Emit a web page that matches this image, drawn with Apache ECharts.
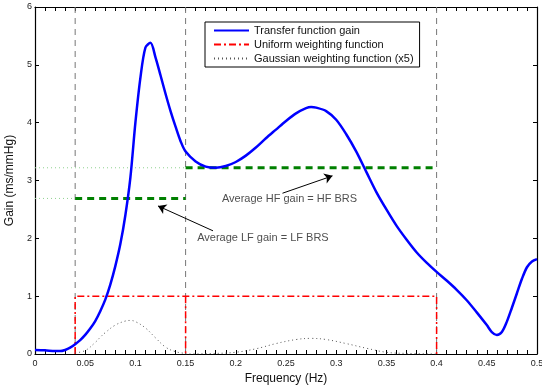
<!DOCTYPE html>
<html>
<head>
<meta charset="utf-8">
<script src="https://cdn.jsdelivr.net/npm/echarts@6/dist/echarts.min.js"></script>
<style>
  html, body { margin: 0; padding: 0; background: #fff; }
  #chart { width: 542px; height: 390px; }
</style>
</head>
<body>
<div id="chart"></div>
<script>
// transfer function gain
const freq = [0, 0.01, 0.02, 0.025, 0.03, 0.035, 0.04, 0.045, 0.05, 0.055, 0.06, 0.065, 0.07, 0.075,
  0.08, 0.085, 0.09, 0.095, 0.1, 0.105, 0.11, 0.115, 0.12, 0.125, 0.13, 0.135, 0.14, 0.145, 0.15,
  0.16, 0.17, 0.18, 0.19, 0.2, 0.21, 0.22, 0.23, 0.24, 0.25, 0.26, 0.27, 0.275, 0.28, 0.29, 0.3,
  0.31, 0.32, 0.33, 0.34, 0.35, 0.36, 0.37, 0.38, 0.39, 0.4, 0.41, 0.42, 0.43, 0.44, 0.45, 0.455,
  0.46, 0.465, 0.47, 0.475, 0.48, 0.485, 0.49, 0.495, 0.5];
const gain = [0.07, 0.065, 0.05, 0.05, 0.07, 0.11, 0.17, 0.24, 0.33, 0.44, 0.57, 0.74, 0.94, 1.2,
  1.52, 1.9, 2.4, 3.05, 4.0, 4.78, 5.3, 5.38, 5.13, 4.82, 4.5, 4.2, 3.93, 3.68, 3.5,
  3.33, 3.24, 3.22, 3.25, 3.32, 3.43, 3.57, 3.73, 3.88, 4.03, 4.16, 4.25, 4.27, 4.26, 4.2, 4.05,
  3.8, 3.5, 3.15, 2.8, 2.5, 2.22, 1.98, 1.76, 1.58, 1.42, 1.27, 1.11, 0.93, 0.72, 0.5, 0.38,
  0.33, 0.38, 0.56, 0.8, 1.05, 1.3, 1.5, 1.6, 1.64];

// gaussian weighting (x5), LF and HF windows
const lfGaussFreq = [0.04, 0.05, 0.06, 0.065, 0.07, 0.08, 0.09, 0.095, 0.1, 0.11, 0.12, 0.13, 0.14, 0.15];
const lfGaussVal = [0.02, 0.06, 0.2, 0.29, 0.37, 0.5, 0.57, 0.58, 0.56, 0.45, 0.28, 0.12, 0.04, 0.01];
const hfGaussFreq = [0.15, 0.18, 0.2, 0.22, 0.24, 0.26, 0.275, 0.29, 0.31, 0.33, 0.35, 0.37, 0.4];
const hfGaussVal = [0.0, 0.01, 0.03, 0.09, 0.18, 0.25, 0.27, 0.25, 0.18, 0.1, 0.03, 0.01, 0.0];

const bandEdges = [0.04, 0.15, 0.4];
const uniformLevel = 1;
const lfAvgGain = 2.69;
const hfAvgGain = 3.22;

const noteText = ['Average HF gain = HF BRS', 'Average LF gain = LF BRS'];
const notePos = [[0.2535, 2.68], [0.227, 2.0]];
const arrowFrom = [[0.2465, 2.78], [0.1773, 2.13]];
const arrowTo = [[0.2963, 3.08], [0.1225, 2.56]];

const names = ['Transfer function gain', 'Uniform weighting function', 'Gaussian weighting function (x5)'];

const zip = (xs, ys) => xs.map((x, i) => [x, ys[i]]);
const font = '"Liberation Sans", Arial, sans-serif';

const seg = (data, color, width, type, name) => ({
  name: name || '',
  type: 'line',
  data,
  symbol: 'none',
  silent: true,
  lineStyle: { color, width, type }
});

const series = [];

// band edges
bandEdges.forEach((e) => {
  series.push(seg([[e, 0], [e, 6]], '#777', 1, [6, 5]));
});

// guides and averages
series.push(seg([[0, lfAvgGain], [bandEdges[0], lfAvgGain]], '#8fd18f', 1, [1, 3]));
series.push(seg([[0, hfAvgGain], [bandEdges[1], hfAvgGain]], '#8fd18f', 1, [1, 3]));
series.push(seg([[bandEdges[0], lfAvgGain], [bandEdges[1], lfAvgGain]], '#008000', 3, [7, 5]));
series.push(seg([[bandEdges[1], hfAvgGain], [bandEdges[2], hfAvgGain]], '#008000', 3, [7, 5]));

series.push({
  name: names[0],
  type: 'line',
  data: zip(freq, gain),
  symbol: 'none',
  smooth: 0.3,
  lineStyle: { color: '#0000ff', width: 2.5 },
  itemStyle: { color: '#0000ff' },
  z: 5
});

series.push(Object.assign(seg([[bandEdges[0], 0], [bandEdges[0], uniformLevel], [bandEdges[2], uniformLevel], [bandEdges[2], 0]],
  '#ff0000', 1.5, [7, 3, 2, 3], names[1]), { itemStyle: { color: '#ff0000' } }));
series.push(seg([[bandEdges[1], uniformLevel], [bandEdges[1], 0]], '#ff0000', 1.5, [7, 3, 2, 3], names[1]));

series.push(Object.assign(seg(zip(lfGaussFreq, lfGaussVal), '#555', 1, [1, 3], names[2]), { smooth: 0.4, itemStyle: { color: '#555' } }));
series.push(Object.assign(seg(zip(hfGaussFreq, hfGaussVal), '#555', 1, [1, 3], names[2]), { smooth: 0.4 }));

// annotations
series.push({
  type: 'scatter',
  silent: true,
  symbolSize: 0,
  data: notePos.map((p, i) => [p[0], p[1], noteText[i]]),
  label: {
    show: true,
    position: 'inside',
    formatter: (p) => p.value[2],
    fontFamily: font,
    fontSize: 11,
    color: '#222'
  },
  markLine: {
    silent: true,
    animation: false,
    symbol: ['none', 'arrow'],
    symbolSize: 8,
    label: { show: false },
    lineStyle: { color: '#000', width: 1, type: 'solid' },
    data: arrowFrom.map((a, i) => [{ coord: a }, { coord: arrowTo[i] }])
  }
});

const boxAxis = (pos) => ({
  type: 'value',
  min: 0,
  max: pos === 'top' || pos === 'bottom' ? 0.5 : 6,
  interval: pos === 'top' || pos === 'bottom' ? 0.05 : 1,
  position: pos,
  axisLine: { show: true, onZero: false, lineStyle: { color: '#000', width: 1.2 } },
  axisTick: { show: true, inside: true, length: 4, lineStyle: { color: '#000' } },
  minorTick: {
    show: pos === 'top' || pos === 'bottom',
    splitNumber: 5,
    length: 4,
    lineStyle: { color: '#000' }
  },
  splitLine: { show: false },
  axisLabel: { show: false }
});

const xMain = Object.assign(boxAxis('bottom'), {
  name: 'Frequency (Hz)',
  nameLocation: 'middle',
  nameGap: 18,
  nameTextStyle: { fontFamily: font, fontSize: 12, color: '#111' },
  axisLabel: { show: true, fontFamily: font, fontSize: 9, color: '#222', margin: 5 }
});
const yMain = Object.assign(boxAxis('left'), {
  name: 'Gain (ms/mmHg)',
  nameLocation: 'middle',
  nameGap: 13,
  nameTextStyle: { fontFamily: font, fontSize: 12, color: '#111' },
  axisLabel: { show: true, fontFamily: font, fontSize: 9, color: '#222', margin: 3 }
});

const chart = echarts.init(document.getElementById('chart'));
chart.setOption({
  animation: false,
  backgroundColor: '#fff',
  grid: { left: 35, right: 5, top: 7, bottom: 36, containLabel: false, outerBoundsMode: 'none' },
  xAxis: [xMain, boxAxis('top')],
  yAxis: [yMain, boxAxis('right')],
  legend: {
    data: names,
    orient: 'vertical',
    left: 205,
    top: 22,
    itemWidth: 35,
    itemHeight: 10,
    itemGap: 3,
    padding: [3, 6, 3, 8],
    borderColor: '#000',
    borderWidth: 1,
    backgroundColor: '#fff',
    borderRadius: 0,
    selectedMode: false,
    itemStyle: { opacity: 0 },
    textStyle: { fontFamily: font, fontSize: 11, color: '#111' }
  },
  series
});
</script>
</body>
</html>
